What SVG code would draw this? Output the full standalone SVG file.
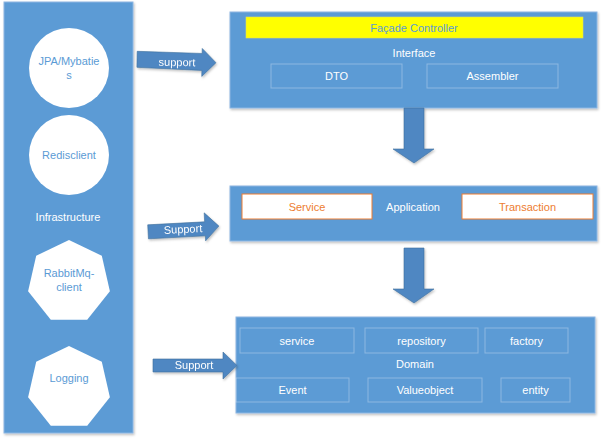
<svg xmlns="http://www.w3.org/2000/svg" width="602" height="441" viewBox="0 0 602 441">
  <style>
    .panel { fill: #5B9BD5; stroke: #8DB6E2; stroke-width: 1; }
    .shape { fill: #FFFFFF; }
    .lbl { font-family: "Liberation Sans", Arial, sans-serif; font-size: 11px; text-anchor: middle; dominant-baseline: central; }
    .blue { fill: #5B9BD5; }
    .white { fill: #FFFFFF; }
    .orange { fill: #ED7D31; }
    .cell { fill: none; stroke: #FFFFFF; stroke-opacity: 0.3; stroke-width: 1; }
    .cellw { fill: #FFFFFF; stroke: #ED7D31; stroke-width: 1; }
    .arrow { fill: #4F87C2; stroke: #41719C; stroke-width: 0.6; }
  </style>
  <defs>
    <filter id="soft" x="-10%" y="-10%" width="130%" height="140%">
      <feDropShadow dx="1" dy="1.5" stdDeviation="1.2" flood-color="#000" flood-opacity="0.25"/>
    </filter>
  </defs>

  <rect width="602" height="441" fill="#FFFFFF"/>

  <!-- Infrastructure column -->
  <g id="infrastructure">
    <rect class="panel" x="4" y="2" width="129" height="431" filter="url(#soft)"/>
    <text class="lbl white" x="68" y="217">Infrastructure</text>
  </g>
  <g id="jpa">
    <circle class="shape" cx="69" cy="68" r="40"/>
    <text class="lbl blue" x="69" y="61">JPA/Mybatie</text>
    <text class="lbl blue" x="69" y="75">s</text>
  </g>
  <g id="redisclient">
    <circle class="shape" cx="69" cy="155" r="40"/>
    <text class="lbl blue" x="69" y="155">Redisclient</text>
  </g>
  <g id="rabbitmq">
    <polygon class="shape" points="69,240 101.8,255.8 109.9,291.3 87.2,319.8 50.8,319.8 28.1,291.3 36.2,255.8"/>
    <text class="lbl blue" x="69" y="273">RabbitMq-</text>
    <text class="lbl blue" x="69" y="287">client</text>
  </g>
  <g id="logging">
    <polygon class="shape" points="69,346 101.8,361.8 109.9,397.3 87.2,425.8 50.8,425.8 28.1,397.3 36.2,361.8"/>
    <text class="lbl blue" x="69" y="378">Logging</text>
  </g>

  <!-- Interface layer -->
  <g id="interface">
    <rect class="panel" x="230" y="12" width="367" height="96" filter="url(#soft)"/>
    <rect x="246" y="17" width="337" height="21" fill="#FFFF00" stroke="#E0E060" stroke-width="0.6"/>
    <text class="lbl blue" x="414" y="27.5">Façade Controller</text>
    <text class="lbl white" x="414" y="53">Interface</text>
    <rect class="cell" x="271" y="64" width="131" height="24"/>
    <text class="lbl white" x="336.5" y="76">DTO</text>
    <rect class="cell" x="427" y="64" width="131" height="24"/>
    <text class="lbl white" x="492.5" y="76">Assembler</text>
  </g>

  <!-- Application layer -->
  <g id="application">
    <rect class="panel" x="230" y="186" width="367" height="55" filter="url(#soft)"/>
    <rect class="cellw" x="242" y="194" width="130" height="25"/>
    <text class="lbl orange" x="307" y="206.5">Service</text>
    <text class="lbl white" x="413" y="206.5">Application</text>
    <rect class="cellw" x="462" y="194" width="131" height="25"/>
    <text class="lbl orange" x="527.5" y="206.5">Transaction</text>
  </g>

  <!-- Domain layer -->
  <g id="domain">
    <rect class="panel" x="236" y="317" width="359" height="96" filter="url(#soft)"/>
    <rect class="cell" x="240" y="328" width="114" height="25"/>
    <text class="lbl white" x="297" y="340.5">service</text>
    <rect class="cell" x="365" y="328" width="113" height="25"/>
    <text class="lbl white" x="421.5" y="340.5">repository</text>
    <rect class="cell" x="485" y="328" width="83" height="25"/>
    <text class="lbl white" x="526.5" y="340.5">factory</text>
    <text class="lbl white" x="415" y="364">Domain</text>
    <rect class="cell" x="236" y="378" width="113" height="24"/>
    <text class="lbl white" x="292.5" y="390">Event</text>
    <rect class="cell" x="368" y="378" width="114" height="24"/>
    <text class="lbl white" x="425" y="390">Valueobject</text>
    <rect class="cell" x="501" y="378" width="69" height="24"/>
    <text class="lbl white" x="535.5" y="390">entity</text>
  </g>

  <!-- Connectors -->
  <g id="connectors">
    <g filter="url(#soft)">
      <polygon class="arrow" points="137,52 202,53 202,48 216,62 202,76 202,70 137,68" transform="rotate(1 176 62)"/>
      <polygon class="arrow" points="148,223 205,223 205,214 219,228 205,242 205,237 148,237" transform="rotate(-3 183 229)"/>
      <polygon class="arrow" points="153,359 223,359 223,352 237,365.5 223,379 223,372 153,372"/>
      <polygon class="arrow" points="404,108 424,108 424,149 434,149 414,163 393,149 404,149"/>
      <polygon class="arrow" points="404,248 424,248 424,289 434,289 414,303 393,289 404,289"/>
    </g>
    <text class="lbl white" x="177" y="62" transform="rotate(1 177 62)">support</text>
    <text class="lbl white" x="183" y="229" transform="rotate(-3 183 229)">Support</text>
    <text class="lbl white" x="194" y="365">Support</text>
  </g>
</svg>
